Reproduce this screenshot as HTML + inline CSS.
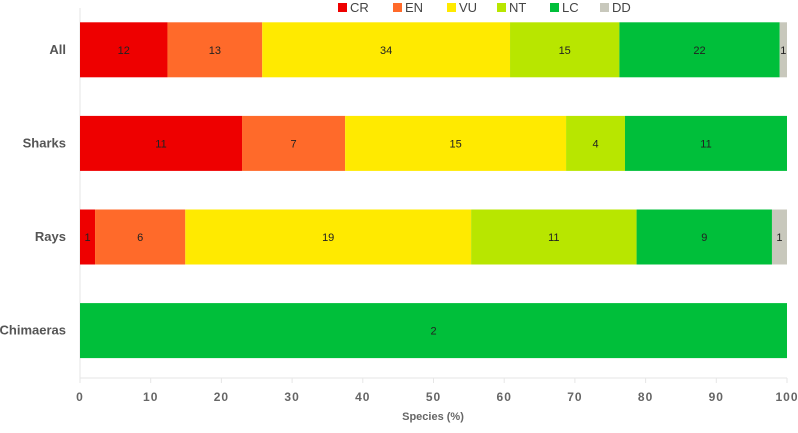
<!DOCTYPE html>
<html><head><meta charset="utf-8"><style>
body{margin:0;background:#fff;font-family:"Liberation Sans",sans-serif}
svg text{font-family:"Liberation Sans",sans-serif}
</style></head><body>
<svg id="c" width="798" height="428"></svg>
<script>
const categories=["All","Sharks","Rays","Chimaeras"];
const statuses=["CR","EN","VU","NT","LC","DD"];
const colors=["#ee0000","#ff6a2a","#ffea00","#b8e600","#00bf3a","#c8c8bc"];
const CR=[12,11,1,0];
const EN=[13,7,6,0];
const VU=[34,15,19,0];
const NT=[15,4,11,0];
const LC=[22,11,9,2];
const DD=[1,0,1,0];
const ticks=[0,10,20,30,40,50,60,70,80,90,100];
const series=[CR,EN,VU,NT,LC,DD];
const NS="http://www.w3.org/2000/svg";
const svg=document.getElementById('c');
const x0=80,x1=787;
const xs=v=>x0+(x1-x0)*v/100;
const bandTop=3,bandStep=93.6,barH=55;
const yc=i=>bandTop+bandStep*i+bandStep/2;
function mk(t,a,p){const e=document.createElementNS(NS,t);for(const k in a)e.setAttribute(k,a[k]);(p||svg).appendChild(e);return e;}
let l=mk('line',{x1:x0,y1:8,x2:x0,y2:378,stroke:'#e6e6e6'});


l=mk('line',{x1:x0,y1:378,x2:x1,y2:378,stroke:'#e6e6e6'});


ticks.forEach(t=>{
  const tk=mk('line',{x1:xs(t),y1:378,x2:xs(t),y2:383,stroke:'#e6e6e6'});
  
  
  const tx=mk('text',{x:xs(t),y:401,'text-anchor':'middle','font-size':'12','font-weight':'bold',fill:'#666','letter-spacing':'1'});
  tx.textContent=t;
  
  
});
const at=mk('text',{x:433,y:420,'text-anchor':'middle','font-size':'11','font-weight':'bold',fill:'#666'});
at.textContent='Species (%)';


categories.forEach((c,i)=>{
  const total=series.reduce((s,a)=>s+a[i],0);
  const lab=mk('text',{x:66,y:yc(i)+4,'text-anchor':'end','font-size':'13','font-weight':'bold',fill:'#555'});
  lab.textContent=c;
  
  
  let acc=0;
  series.forEach((s,j)=>{
    const v=s[i];if(!v)return;
    const a=xs(acc/total*100),b=xs((acc+v)/total*100);acc+=v;
    const r=mk('rect',{x:a,y:yc(i)-barH/2,width:b-a,height:barH,fill:colors[j]});
    
    
    const t=mk('text',{x:(a+b)/2,y:yc(i)+4,'text-anchor':'middle','font-size':'11',fill:'#222'});
    t.textContent=v;
    
    
  });
});
const lg=mk('g',{});


const lx=[338,393,447,497,550,600];
statuses.forEach((s,j)=>{
  const g=mk('g',{},lg);
  
  
  mk('rect',{x:lx[j],y:3,width:9,height:9,fill:colors[j]},g);
  const t=mk('text',{x:lx[j]+12,y:12,'font-size':'13',fill:'#444'},g);
  t.textContent=s;
});
</script>
</body></html>
